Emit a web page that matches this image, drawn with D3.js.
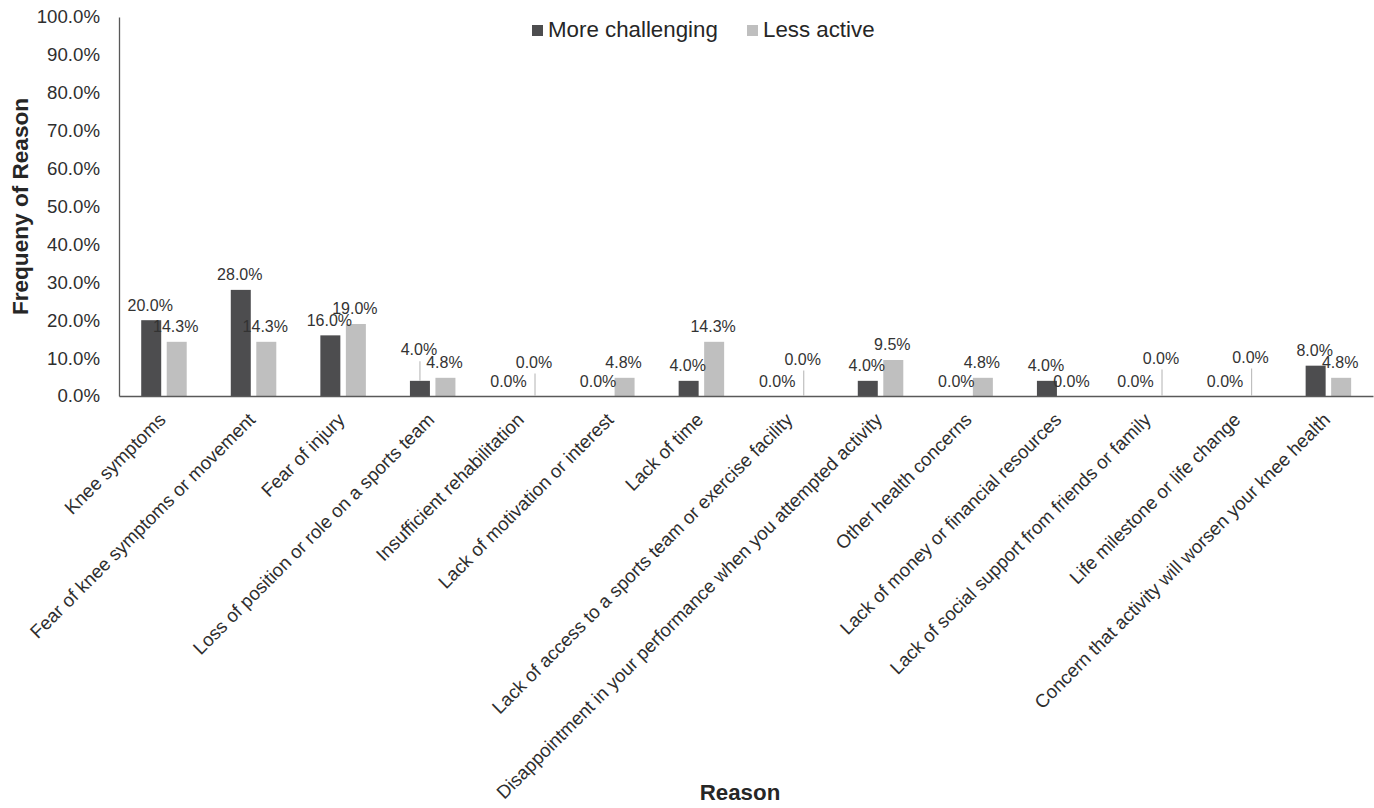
<!DOCTYPE html>
<html>
<head>
<meta charset="utf-8">
<script src="https://cdn.jsdelivr.net/npm/d3@7"></script>
<style>
  html, body { margin: 0; padding: 0; background: #fff; }
  svg { display: block; font-family: "Liberation Sans", Arial, sans-serif; }
</style>
</head>
<body>
<svg id="chart" width="1374" height="808"></svg>
<script>
const categories = [
  "Knee symptoms",
  "Fear of knee symptoms or movement",
  "Fear of injury",
  "Loss of position or role on a sports team",
  "Insufficient rehabilitation",
  "Lack of motivation or interest",
  "Lack of time",
  "Lack of access to a sports team or exercise facility",
  "Disappointment in your performance when you attempted activity",
  "Other health concerns",
  "Lack of money or financial resources",
  "Lack of social support from friends or family",
  "Life milestone or life change",
  "Concern that activity will worsen your knee health"
];
const seriesNames = ["More challenging", "Less active"];
const moreChallenging = [20.0, 28.0, 16.0, 4.0, 0.0, 0.0, 4.0, 0.0, 4.0, 0.0, 4.0, 0.0, 0.0, 8.0];
const lessActive = [14.3, 14.3, 19.0, 4.8, 0.0, 4.8, 14.3, 0.0, 9.5, 4.8, 0.0, 0.0, 0.0, 4.8];
const yTicks = [0, 10, 20, 30, 40, 50, 60, 70, 80, 90, 100];
// label lifts (px) for labels that were moved up, drawn with leader lines
const moreLift = [0, 0, 0, 16, 0, 0, 0, 0, 0, 0, 0, 0, 0, 0];
const lessLift = [0, 0, 0, 0, 19, 0, 0, 22, 0, 0, 0, 23, 24, 0];

(function () {
const colors = ["#4d4d4f", "#bfbfbf"];
const svg = d3.select("#chart");
const mLeft = 119, mRight = 1373, mTop = 17, mBottom = 396;

const x0 = d3.scaleBand().domain(categories).range([mLeft, mRight]).padding(0);
const bw = x0.bandwidth();
const x1 = d3.scaleBand().domain(seriesNames).range([bw * 0.248, bw * 0.756]).paddingInner(0.216);
const y = d3.scaleLinear().domain([0, 100]).range([mBottom, mTop]);

const series = [moreChallenging, lessActive];
const lifts = [moreLift, lessLift];
const fmt = d => d3.format(".1f")(d) + "%";

// y axis
const yAxis = d3.axisLeft(y).tickValues(yTicks).tickFormat(fmt).tickSize(0).tickPadding(19);
const gy = svg.append("g").attr("transform", `translate(${mLeft},0)`).call(yAxis);
gy.select(".domain").attr("stroke", "#595959").attr("stroke-width", 1.3);
gy.selectAll("text").attr("font-size", "18.67px").attr("fill", "#2e2e2e").attr("font-family", "Liberation Sans, Arial, sans-serif");

// bars
series.forEach((vals, si) => {
  const g = svg.append("g");
  g.selectAll("rect").data(vals).join("rect")
    .attr("x", (d, i) => x0(categories[i]) + x1(seriesNames[si]))
    .attr("width", x1.bandwidth())
    .attr("y", d => y(d))
    .attr("height", d => y(0) - y(d))
    .attr("fill", colors[si]);
});

// x axis
const xAxis = d3.axisBottom(x0).tickSize(0).tickFormat(d => d);
const gx = svg.append("g").attr("transform", `translate(0,${mBottom})`).call(xAxis);
gx.select(".domain").attr("stroke", "#595959").attr("stroke-width", 1.3);
gx.selectAll("text")
  .attr("font-size", "18.67px").attr("fill", "#2e2e2e")
  .attr("font-family", "Liberation Sans, Arial, sans-serif")
  .attr("text-anchor", "end")
  .attr("dy", null).attr("y", null)
  .attr("transform", "translate(3,25) rotate(-45)");

// data labels + leader lines
series.forEach((vals, si) => {
  const g = svg.append("g");
  vals.forEach((v, i) => {
    const cx = x0(categories[i]) + x1(seriesNames[si]) + x1.bandwidth() / 2;
    const lift = lifts[si][i];
    const base = y(v) - 9.5 - lift;
    if (lift > 0) {
      g.append("line")
        .attr("x1", cx).attr("x2", cx)
        .attr("y1", base + 6).attr("y2", y(v))
        .attr("stroke", "#bfbfbf").attr("stroke-width", 1.2);
    }
    g.append("text")
      .attr("x", cx - 1).attr("y", base)
      .attr("text-anchor", "middle")
      .attr("font-size", "16px").attr("fill", "#333")
      .text(fmt(v));
  });
});

// legend
const legend = svg.append("g");
const legendX = [532, 747];
seriesNames.forEach((s, i) => {
  legend.append("rect").attr("x", legendX[i]).attr("y", 25).attr("width", 11).attr("height", 11).attr("fill", colors[i]);
  legend.append("text").attr("x", legendX[i] + 16).attr("y", 37)
    .attr("font-size", "22.3px").attr("fill", "#262626").text(s);
});

// axis titles
svg.append("text").attr("x", 740).attr("y", 800).attr("text-anchor", "middle")
  .attr("font-size", "22.3px").attr("font-weight", "bold").attr("fill", "#262626").text("Reason");
svg.append("text").attr("transform", `translate(28,${(mTop + mBottom) / 2}) rotate(-90)`)
  .attr("text-anchor", "middle")
  .attr("font-size", "22.6px").attr("font-weight", "bold").attr("fill", "#262626").text("Frequeny of Reason");
})();
</script>
</body>
</html>
